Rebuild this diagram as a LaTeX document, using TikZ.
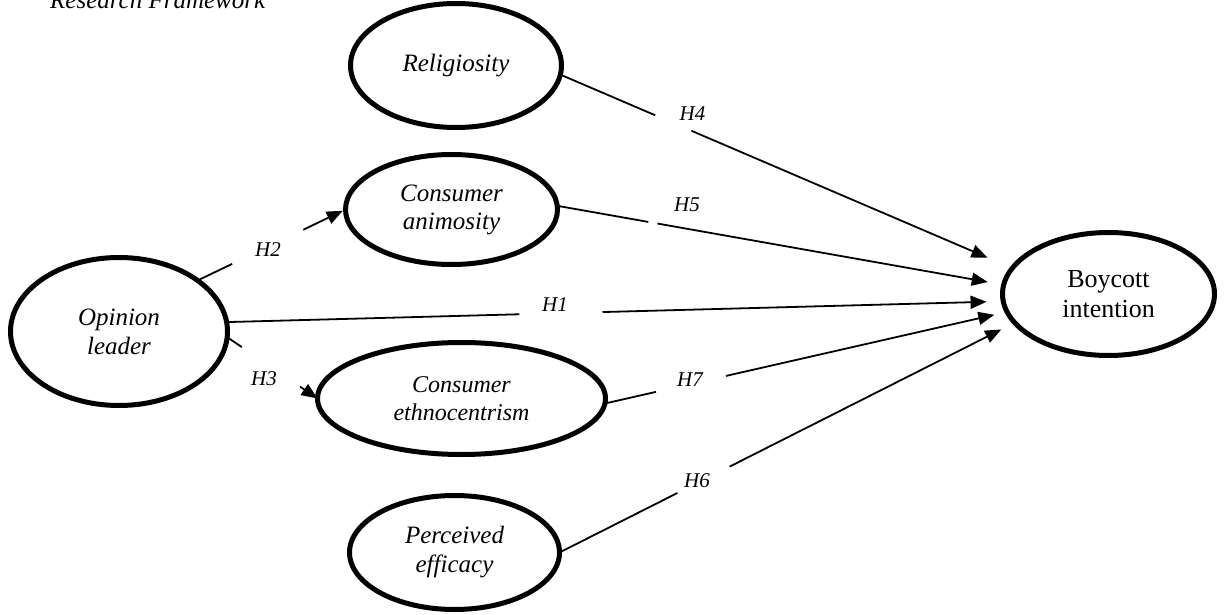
\documentclass[tikz,border=0pt]{standalone}
\usepackage{fontspec}
\setmainfont{Liberation Serif}
\usetikzlibrary{shapes.geometric,arrows.meta}
\begin{document}
\begin{tikzpicture}[x=1pt,y=-1pt,
  var/.style={ellipse,draw,line width=5pt,inner sep=0pt,outer sep=0pt,align=center,font=\fontsize{25}{29}\selectfont\itshape},
  conn/.style={line width=1.8pt},
  arr/.style={line width=1.8pt,-{Triangle[length=16pt,width=13pt]}},
  hyp/.style={font=\fontsize{21}{24}\selectfont\itshape,inner sep=0pt}
]
\clip (0,0) rectangle (1224,615);
\node[anchor=base west,font=\fontsize{25}{29}\selectfont\itshape,inner sep=0pt] (title) at (50,9) {Research Framework};
% constructs
\node[var,minimum width=211pt,minimum height=124pt] (rel) at (456,65.5) {Religiosity};
\node[var,minimum width=212pt,minimum height=110pt,font=\fontsize{25}{28}\selectfont\itshape] (ani) at (451.5,209.5) {Consumer\\animosity};
\node[var,minimum width=217pt,minimum height=148pt] (op) at (119,331.5) {Opinion\\leader};
\node[var,minimum width=288pt,minimum height=112pt,font=\fontsize{24}{28}\selectfont\itshape] (eth) at (461.5,398.5) {Consumer\\ethnocentrism};
\node[var,minimum width=210pt,minimum height=114pt] (eff) at (454.5,552.5) {Perceived\\efficacy};
\node[var,minimum width=212pt,minimum height=123pt,font=\fontsize{26}{30}\selectfont] (boy) at (1108.5,294) {Boycott\\intention};
% H1
\path (op.5.8) -- coordinate[pos=0.377] (h1a) coordinate[pos=0.484] (h1b) (boy.184.7);
\draw[conn] (op.5.8) -- (h1a);
\draw[arr,shorten >=16.7pt] (h1b) -- (boy.184.7);
\node[hyp] (lh1) at (555,305) {H1};
% H2
\path (op.33.3) -- coordinate[pos=0.234] (h2a) coordinate[pos=0.715] (h2b) (ani.180.5);
\draw[conn] (op.33.3) -- (h2a);
\draw[arr,shorten >=3pt] (h2b) -- (ani.180.5);
\node[hyp] (lh2) at (268,250) {H2};
% H3
\path (op.357) -- coordinate[pos=0.162] (h3a) coordinate[pos=0.807] (h3b) (eth.180.6);
\draw[conn] (op.357) -- (h3a);
\draw[arr] (h3b) -- (eth.180.6);
\node[hyp] (lh3) at (264,378.5) {H3};
% H4
\path (rel.355.7) -- coordinate[pos=0.21] (h4a) coordinate[pos=0.29] (h4b) (boy.165.4);
\draw[conn] (rel.355.7) -- (h4a);
\draw[arr,shorten >=27pt] (h4b) -- (boy.165.4);
\node[hyp] (lh4) at (692.5,113.5) {H4};
% H5
\path (ani.2.8) -- coordinate[pos=0.204] (h5a) coordinate[pos=0.2245] (h5b) (boy.175);
\draw[conn] (ani.2.8) -- (h5a);
\draw[arr,shorten >=16.2pt] (h5b) -- (boy.175);
\node[hyp] (lh5) at (687,205) {H5};
% H6
\path (eff.0) -- coordinate[pos=0.259] (h6a) coordinate[pos=0.374] (h6b) (boy.197.3);
\draw[conn] (eff.0) -- (h6a);
\draw[arr,shorten >=15.1pt] (h6b) -- (boy.197.3);
\node[hyp] (lh6) at (697,481) {H6};
% H7
\path (eth.358.2) -- coordinate[pos=0.127] (h7a) coordinate[pos=0.301] (h7b) (boy.190.7);
\draw[conn] (eth.358.2) -- (h7a);
\draw[arr,shorten >=13.1pt] (h7b) -- (boy.190.7);
\node[hyp] (lh7) at (690,380) {H7};
\end{tikzpicture}
\end{document}
